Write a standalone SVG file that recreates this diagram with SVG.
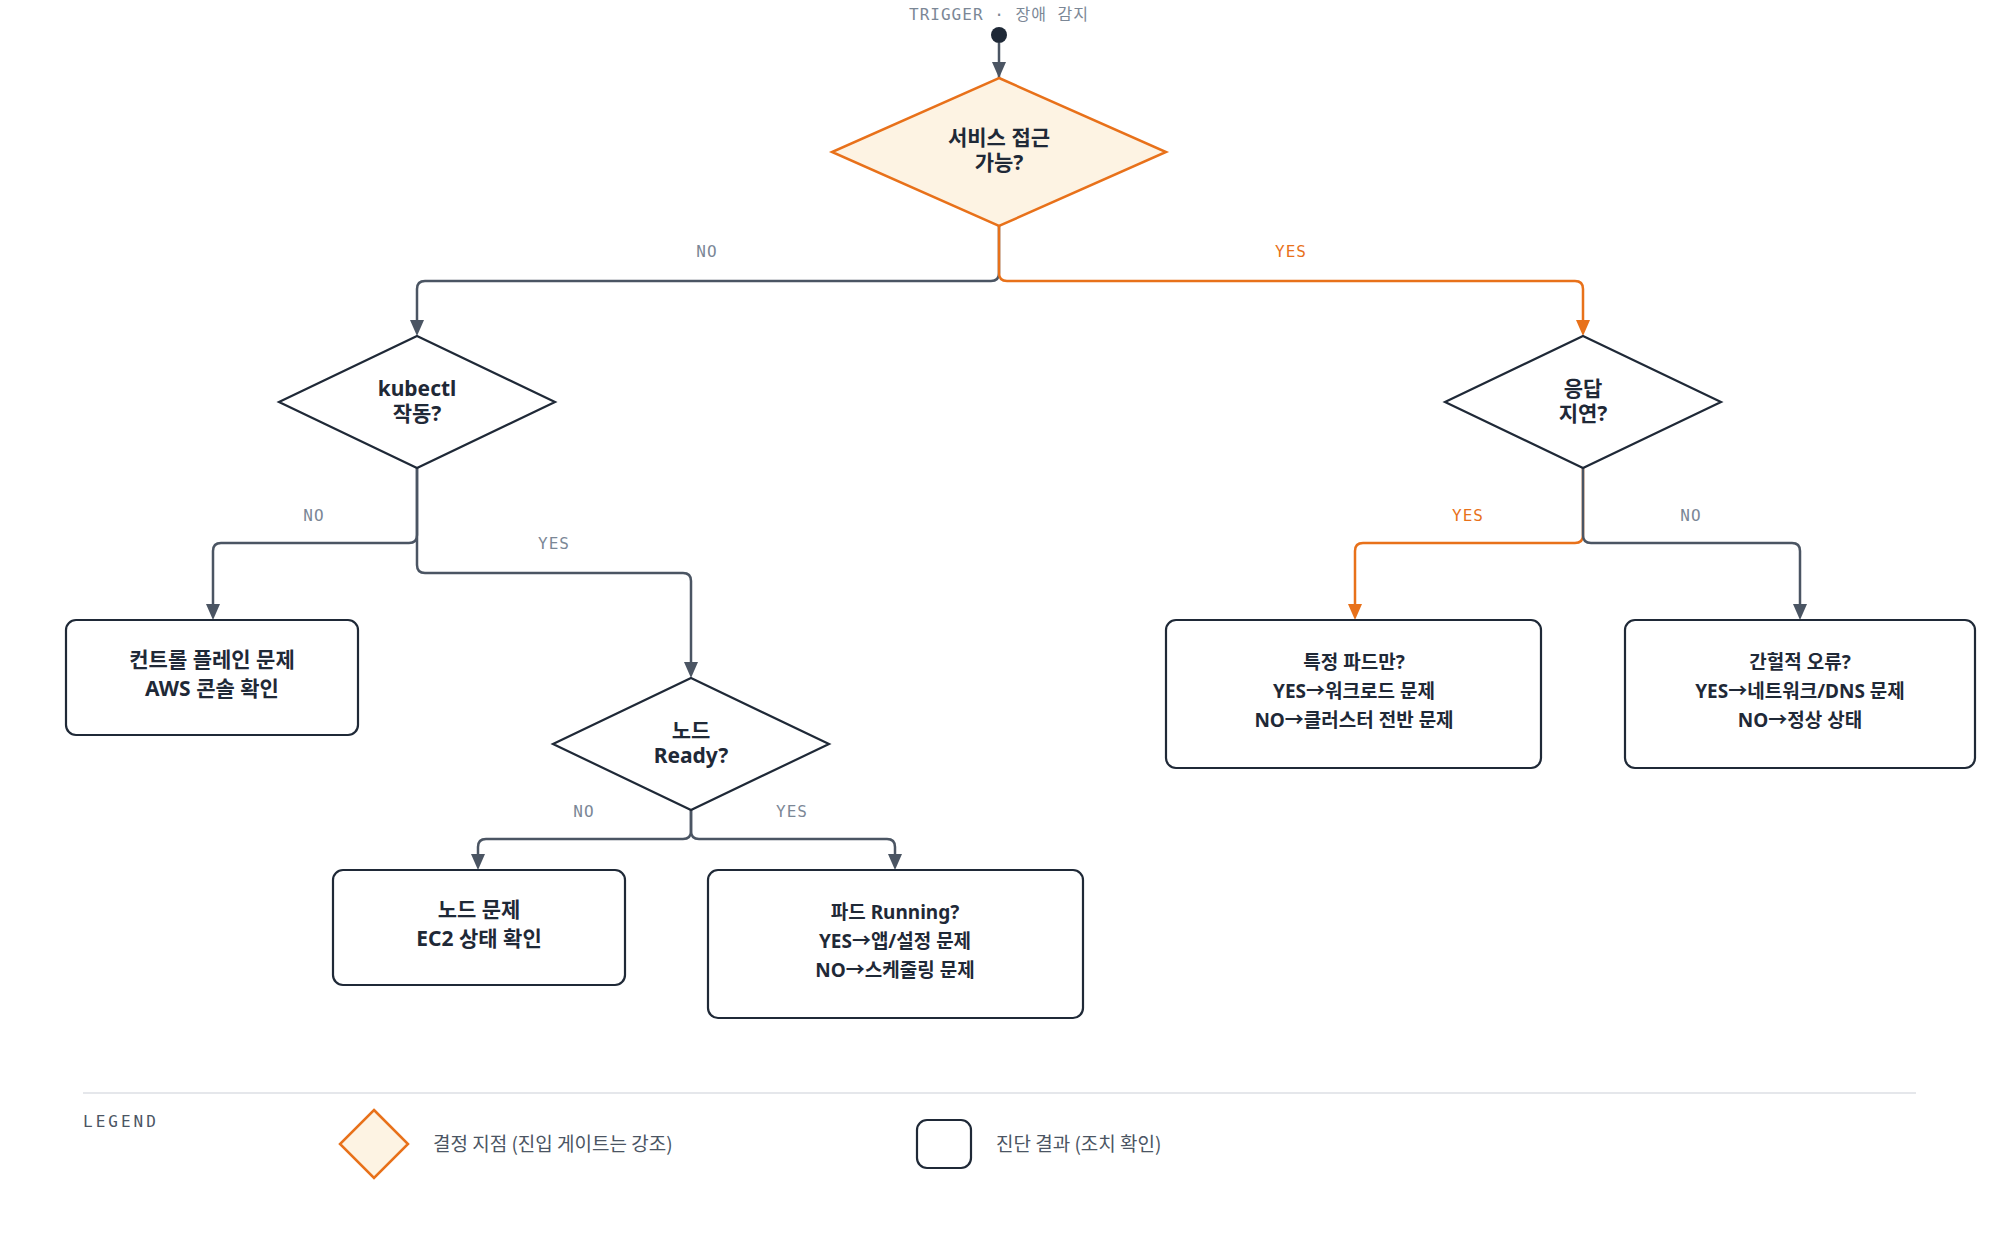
<svg xmlns="http://www.w3.org/2000/svg" width="2000" height="1252" viewBox="0 0 2000 1252">
<style>
.dia{fill:#fff;stroke:#1f2937;stroke-width:2.2}
.gate{fill:#fdf3e3;stroke:#e8711a;stroke-width:2.5}
.box{fill:#fff;stroke:#1f2937;stroke-width:2.2}
.t{font-family:"Noto Sans","Noto Sans CJK KR",sans-serif;font-weight:700;fill:#1f2937;text-anchor:middle}
.lg{font-family:"DejaVu Sans Mono","Noto Sans CJK KR",monospace;font-size:16px;letter-spacing:1px;text-anchor:middle}
.c{fill:none;stroke:#4b5563;stroke-width:2.5}
.co{fill:none;stroke:#e8711a;stroke-width:2.5}
</style>
<defs>
<marker id="ag" markerUnits="userSpaceOnUse" markerWidth="14" markerHeight="16" refX="7" refY="15" orient="auto-start-reverse" viewBox="0 0 14 16"><path d="M0 0 L14 0 L7 16 Z" fill="#4b5563" transform="rotate(0)"/></marker>
<marker id="ao" markerUnits="userSpaceOnUse" markerWidth="14" markerHeight="16" refX="7" refY="15" viewBox="0 0 14 16"><path d="M0 0 L14 0 L7 16 Z" fill="#e8711a"/></marker>
</defs>
<rect width="2000" height="1252" fill="#fff"/>
<text x="999" y="20" class="lg" fill="#7b8796" style="font-size:16px">TRIGGER · 장애 감지</text>
<g id="connectors">
<circle cx="999" cy="35" r="8" fill="#1f2937"/>
<path d="M999 43 V78" class="c" style="marker-end:none"/>
<path d="M992 62 L1006 62 L999 78 Z" fill="#4b5563"/>
<path d="M999 226 V273 Q999 281 991 281 H425 Q417 281 417 289 V320" class="c"/>
<path d="M410 320 L424 320 L417 336 Z" fill="#4b5563"/>
<path d="M999 226 V273 Q999 281 1007 281 H1575 Q1583 281 1583 289 V320" class="co"/>
<path d="M1576 320 L1590 320 L1583 336 Z" fill="#e8711a"/>
<path d="M417 468 V535 Q417 543 409 543 H221 Q213 543 213 551 V604" class="c"/>
<path d="M206 604 L220 604 L213 620 Z" fill="#4b5563"/>
<path d="M417 468 V565 Q417 573 425 573 H683 Q691 573 691 581 V662" class="c"/>
<path d="M684 662 L698 662 L691 678 Z" fill="#4b5563"/>
<path d="M691 810 V831 Q691 839 683 839 H486 Q478 839 478 847 V854" class="c"/>
<path d="M471 854 L485 854 L478 870 Z" fill="#4b5563"/>
<path d="M691 810 V831 Q691 839 699 839 H887 Q895 839 895 847 V854" class="c"/>
<path d="M888 854 L902 854 L895 870 Z" fill="#4b5563"/>
<path d="M1583 468 V535 Q1583 543 1575 543 H1363 Q1355 543 1355 551 V604" class="co"/>
<path d="M1348 604 L1362 604 L1355 620 Z" fill="#e8711a"/>
<path d="M1583 468 V535 Q1583 543 1591 543 H1792 Q1800 543 1800 551 V604" class="c"/>
<path d="M1793 604 L1807 604 L1800 620 Z" fill="#4b5563"/>
<text x="707" y="257" class="lg" fill="#7b8796">NO</text>
<text x="1291" y="257" class="lg" fill="#e8711a">YES</text>
<text x="314" y="521" class="lg" fill="#7b8796">NO</text>
<text x="554" y="549" class="lg" fill="#7b8796">YES</text>
<text x="584" y="817" class="lg" fill="#7b8796">NO</text>
<text x="792" y="817" class="lg" fill="#7b8796">YES</text>
<text x="1468" y="521" class="lg" fill="#e8711a">YES</text>
<text x="1691" y="521" class="lg" fill="#7b8796">NO</text>
</g>
<g id="d1"><path d="M999 78 L1166 152 L999 226 L832 152 Z" class="gate"/><text class="t" font-size="21" x="999" y="145">서비스 접근</text><text class="t" font-size="21" x="999" y="170">가능?</text></g>
<g id="d2"><path d="M417 336 L555 402 L417 468 L279 402 Z" class="dia"/><text class="t" font-size="21" x="417" y="396">kubectl</text><text class="t" font-size="21" x="417" y="421">작동?</text></g>
<g id="d3"><path d="M1583 336 L1721 402 L1583 468 L1445 402 Z" class="dia"/><text class="t" font-size="21" x="1583" y="396">응답</text><text class="t" font-size="21" x="1583" y="421">지연?</text></g>
<g id="d4"><path d="M691 678 L829 744 L691 810 L553 744 Z" class="dia"/><text class="t" font-size="21" x="691" y="738">노드</text><text class="t" font-size="21" x="691" y="763">Ready?</text></g>
<g id="b1"><rect x="66" y="620" width="292" height="115" rx="10" class="box"/><text class="t" font-size="21" x="212" y="667">컨트롤 플레인 문제</text><text class="t" font-size="21" x="212" y="696">AWS 콘솔 확인</text></g>
<g id="b2"><rect x="333" y="870" width="292" height="115" rx="10" class="box"/><text class="t" font-size="21" x="479" y="917">노드 문제</text><text class="t" font-size="21" x="479" y="946">EC2 상태 확인</text></g>
<g id="b3"><rect x="708" y="870" width="375" height="148" rx="10" class="box"/><text class="t" font-size="19" x="895" y="919">파드 Running?</text><text class="t" font-size="19" x="895" y="948">YES→앱/설정 문제</text><text class="t" font-size="19" x="895" y="977">NO→스케줄링 문제</text></g>
<g id="b4"><rect x="1166" y="620" width="375" height="148" rx="10" class="box"/><text class="t" font-size="19" x="1354" y="669">특정 파드만?</text><text class="t" font-size="19" x="1354" y="698">YES→워크로드 문제</text><text class="t" font-size="19" x="1354" y="727">NO→클러스터 전반 문제</text></g>
<g id="b5"><rect x="1625" y="620" width="350" height="148" rx="10" class="box"/><text class="t" font-size="19" x="1800" y="669">간헐적 오류?</text><text class="t" font-size="19" x="1800" y="698">YES→네트워크/DNS 문제</text><text class="t" font-size="19" x="1800" y="727">NO→정상 상태</text></g>
<g id="legend">
<line x1="83" y1="1093" x2="1916" y2="1093" stroke="#e5e7eb" stroke-width="2"/>
<text x="83" y="1127" class="lg" fill="#4b5563" style="text-anchor:start;letter-spacing:3px">LEGEND</text>
<path d="M374 1110 L408 1144 L374 1178 L340 1144 Z" class="gate"/>
<text x="433" y="1151" font-family="Noto Sans CJK KR,sans-serif" font-size="19" fill="#4b5563">결정 지점 (진입 게이트는 강조)</text>
<rect x="917" y="1120" width="54" height="48" rx="10" class="box"/>
<text x="996" y="1151" font-family="Noto Sans CJK KR,sans-serif" font-size="19" fill="#4b5563">진단 결과 (조치 확인)</text>
</g>
</svg>
